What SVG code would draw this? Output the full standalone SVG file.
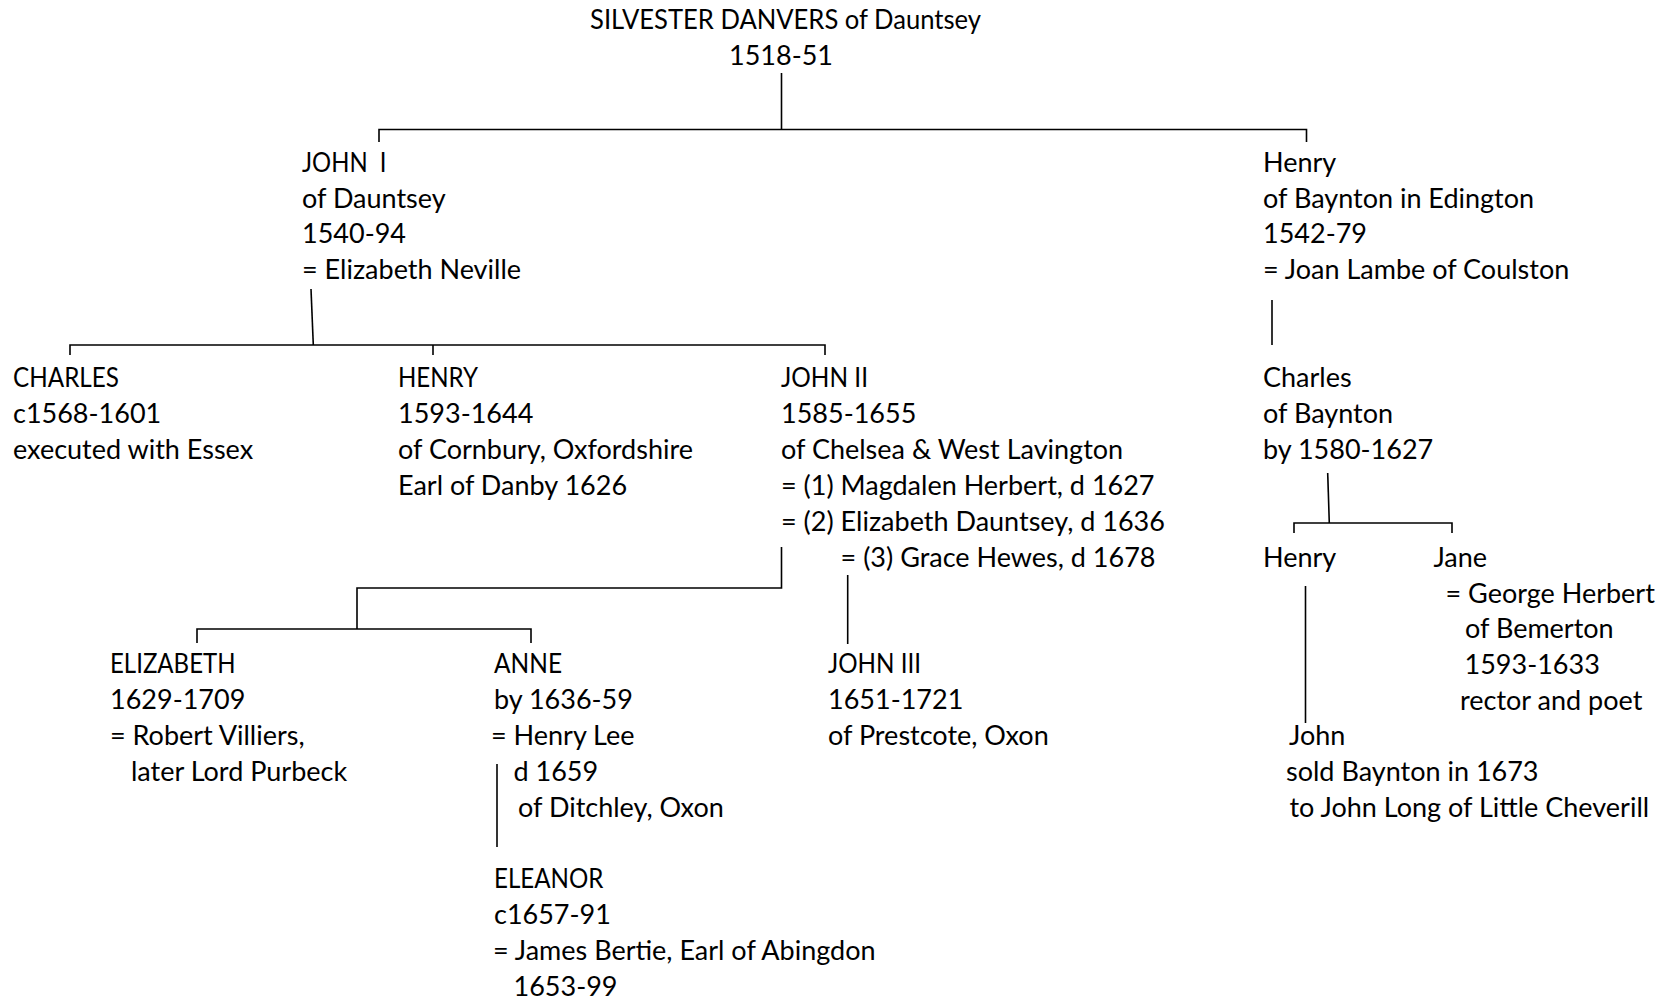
<svg xmlns="http://www.w3.org/2000/svg" width="1658" height="1002" viewBox="0 0 1658 1002">
  <style>
    .t { font-family: Lato, "Open Sans", "Liberation Sans", sans-serif; font-size: 27px; fill: #000; white-space: pre; }
    .c { text-anchor: middle; }
    .ln { fill: none; stroke: #000; stroke-width: 1.6; }
  </style>
  <rect width="1658" height="1002" fill="#fff"/>

  <!-- family lines -->
  <g id="connectors" class="ln">
    <path d="M781.5,73 V129.5"/>
    <path d="M379,142 V129.5 H1306.5 V142"/>
    <path d="M311,289 L313.3,345"/>
    <path d="M70,355 V345 H825 V355"/>
    <path d="M433,345 V355"/>
    <path d="M1272,300 V345"/>
    <path d="M1327.7,473 L1329.3,523"/>
    <path d="M1294,533 V523 H1452 V533"/>
    <path d="M1305.5,586 V723"/>
    <path d="M781.5,547 V588 H357 V629"/>
    <path d="M197,643 V629 H531 V643"/>
    <path d="M847.7,575 V644"/>
    <path d="M497,764 V847"/>
  </g>

  <g id="silvester" class="t">
    <text x="590" y="29" textLength="391" lengthAdjust="spacingAndGlyphs">SILVESTER DANVERS of Dauntsey</text>
    <text class="c" x="781" y="65">1518-51</text>
  </g>

  <g id="john-i" class="t">
    <text x="302" y="172" textLength="84.5" lengthAdjust="spacingAndGlyphs">JOHN&#160; I</text>
    <text x="302" y="208">of Dauntsey</text>
    <text x="302" y="243">1540-94</text>
    <text x="302" y="279">= Elizabeth Neville</text>
  </g>

  <g id="henry-edington" class="t">
    <text x="1263" y="172">Henry</text>
    <text x="1263" y="208">of Baynton in Edington</text>
    <text x="1263" y="243">1542-79</text>
    <text x="1263" y="279">= Joan Lambe of Coulston</text>
  </g>

  <g id="charles-essex" class="t">
    <text x="13" y="387" textLength="106" lengthAdjust="spacingAndGlyphs">CHARLES</text>
    <text x="13" y="423">c1568-1601</text>
    <text x="13" y="459">executed with Essex</text>
  </g>

  <g id="henry-danby" class="t">
    <text x="398" y="387" textLength="80" lengthAdjust="spacingAndGlyphs">HENRY</text>
    <text x="398" y="423">1593-1644</text>
    <text x="398" y="459">of Cornbury, Oxfordshire</text>
    <text x="398" y="495">Earl of Danby 1626</text>
  </g>

  <g id="john-ii" class="t">
    <text x="781" y="387" textLength="87" lengthAdjust="spacingAndGlyphs">JOHN II</text>
    <text x="781" y="423">1585-1655</text>
    <text x="781" y="459">of Chelsea &amp; West Lavington</text>
    <text x="781" y="495">= (1) Magdalen Herbert, d 1627</text>
    <text x="781" y="531">= (2) Elizabeth Dauntsey, d 1636</text>
    <text x="840.6" y="567">= (3) Grace Hewes, d 1678</text>
  </g>

  <g id="charles-baynton" class="t">
    <text x="1263" y="387">Charles</text>
    <text x="1263" y="423">of Baynton</text>
    <text x="1263" y="459">by 1580-1627</text>
  </g>

  <g id="henry-baynton" class="t">
    <text x="1263" y="567">Henry</text>
  </g>

  <g id="jane" class="t">
    <text x="1433.5" y="567">Jane</text>
    <text x="1445.5" y="603">= George Herbert</text>
    <text x="1465" y="638">of Bemerton</text>
    <text x="1464.5" y="674">1593-1633</text>
    <text x="1460" y="710">rector and poet</text>
  </g>

  <g id="elizabeth" class="t">
    <text x="110" y="673" textLength="125.5" lengthAdjust="spacingAndGlyphs">ELIZABETH</text>
    <text x="110" y="709">1629-1709</text>
    <text x="110" y="745">= Robert Villiers,</text>
    <text x="131" y="781">later Lord Purbeck</text>
  </g>

  <g id="anne" class="t">
    <text x="494" y="673" textLength="68" lengthAdjust="spacingAndGlyphs">ANNE</text>
    <text x="494" y="709">by 1636-59</text>
    <text x="491" y="745">= Henry Lee</text>
    <text x="513.5" y="781">d 1659</text>
    <text x="518" y="817">of Ditchley, Oxon</text>
  </g>

  <g id="john-iii" class="t">
    <text x="828" y="673" textLength="93" lengthAdjust="spacingAndGlyphs">JOHN III</text>
    <text x="828" y="709">1651-1721</text>
    <text x="828" y="745">of Prestcote, Oxon</text>
  </g>

  <g id="john-baynton" class="t">
    <text x="1289" y="745">John</text>
    <text x="1286" y="781">sold Baynton in 1673</text>
    <text x="1289.5" y="817">to John Long of Little Cheverill</text>
  </g>

  <g id="eleanor" class="t">
    <text x="494" y="888" textLength="109.5" lengthAdjust="spacingAndGlyphs">ELEANOR</text>
    <text x="494" y="924">c1657-91</text>
    <text x="493" y="960">= James Bertie, Earl of Abingdon</text>
    <text x="513.5" y="996">1653-99</text>
  </g>
</svg>
